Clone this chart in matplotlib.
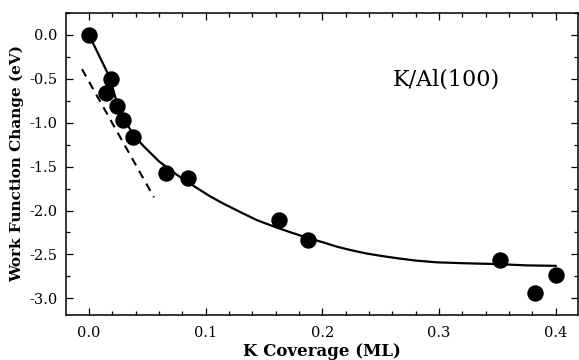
import matplotlib
matplotlib.use("Agg")
import matplotlib.pyplot as plt
from matplotlib.ticker import MultipleLocator

# measured data points
cov = [0.0, 0.019, 0.015, 0.024, 0.029, 0.038, 0.066, 0.085, 0.163, 0.188, 0.352, 0.382, 0.400]
dphi = [0.0, -0.505, -0.658, -0.81, -0.97, -1.16, -1.577, -1.627, -2.11, -2.337, -2.565, -2.945, -2.737]

# solid fit curve
fit_x = [0.0, 0.018, 0.024, 0.030, 0.038, 0.047, 0.060, 0.075, 0.085, 0.095, 0.104, 0.115,
         0.130, 0.144, 0.158, 0.172, 0.187, 0.200, 0.212, 0.224, 0.238, 0.252, 0.265, 0.280,
         0.298, 0.320, 0.350, 0.375, 0.400]
fit_y = [0.0, -0.49, -0.78, -0.95, -1.14, -1.27, -1.44, -1.59, -1.68, -1.765, -1.84, -1.92,
         -2.02, -2.11, -2.18, -2.245, -2.31, -2.36, -2.41, -2.45, -2.49, -2.52, -2.545, -2.57,
         -2.59, -2.60, -2.61, -2.625, -2.63]

# dashed initial-slope line
dash_x = [-0.006, 0.0557]
dash_y = [-0.39, -1.85]

xticks = [0.0, 0.1, 0.2, 0.3, 0.4]
yticks = [0.0, -0.5, -1.0, -1.5, -2.0, -2.5, -3.0]
label = "K/Al(100)"

plt.rcParams['font.family'] = ['DejaVu Serif']

fig = plt.figure(figsize=(5.79, 3.60), dpi=100)
ax = fig.add_axes([0.114, 0.125, 0.884, 0.839])

ax.plot(fit_x, fit_y, color='black', lw=1.6, zorder=2, solid_joinstyle='round')
ax.plot(dash_x, dash_y, color='black', lw=1.5, ls=(0, (4, 3)), zorder=2)
ax.plot(cov, dphi, 'o', color='black', ms=10.8, zorder=3)

ax.set_xlim(-0.0197, 0.419)
ax.set_ylim(-3.19, 0.25)
ax.set_xticks(xticks)
ax.set_xticklabels(["%.1f" % v for v in xticks])
ax.set_yticks(yticks)
ax.set_yticklabels(["%.1f" % v for v in yticks])
ax.xaxis.set_minor_locator(MultipleLocator(0.02))
ax.yaxis.set_minor_locator(MultipleLocator(0.25))
ax.tick_params(which='both', direction='in', top=True, right=True, labelsize=10.5, width=0.9)
ax.tick_params(which='major', length=5)
ax.tick_params(which='minor', length=3)
ax.tick_params(axis='x', pad=8)
ax.tick_params(axis='y', pad=6)
for s in ax.spines.values():
    s.set_linewidth(1.1)

ax.set_xlabel("K Coverage (ML)", fontsize=12, fontweight='bold', labelpad=2)
ax.set_ylabel("Work Function Change (eV)", fontsize=11, fontweight='bold', labelpad=4)
ax.text(0.306, -0.513, label, fontsize=16, ha='center', va='center')

fig.savefig("out.png", dpi=100)
